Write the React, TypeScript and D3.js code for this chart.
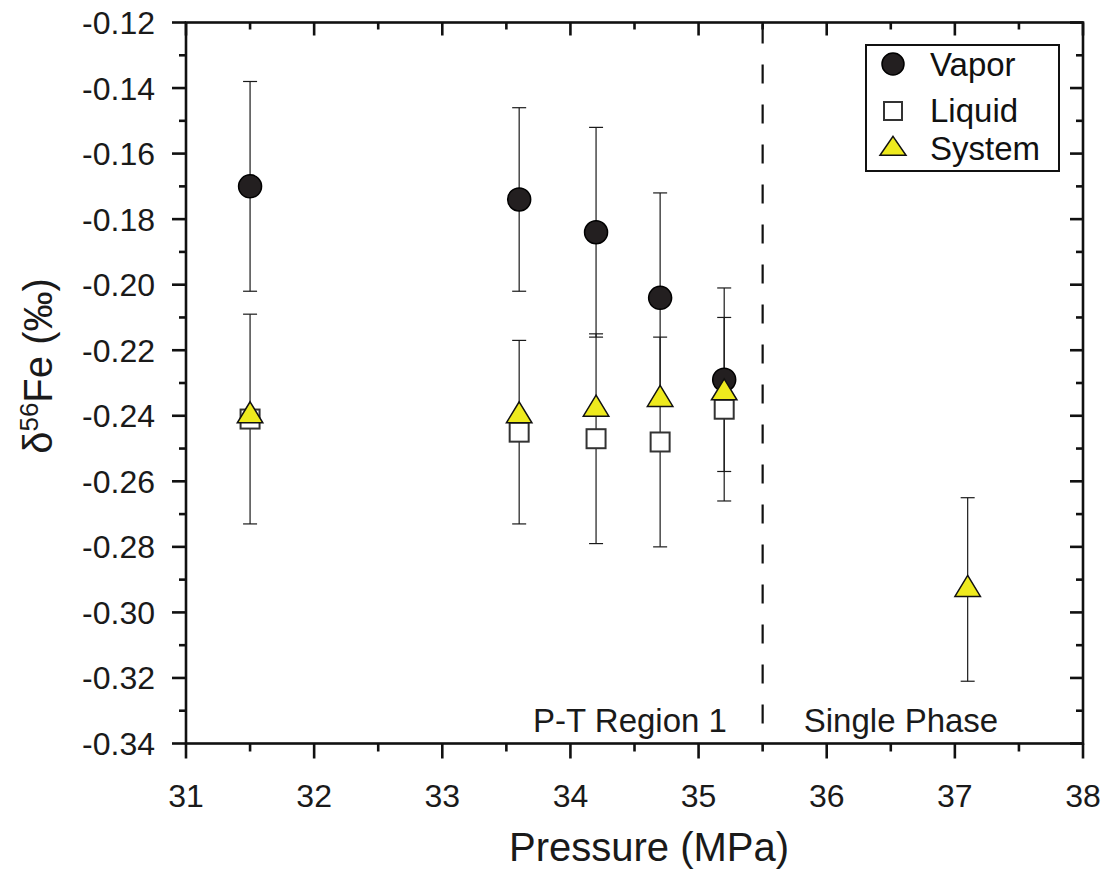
import React from "react";
import * as d3 from "d3";

const pressure = [31.5, 33.6, 34.2, 34.7, 35.2];
const vapor = [-0.17, -0.174, -0.184, -0.204, -0.229];
const vaporErr = [0.032, 0.028, 0.032, 0.032, 0.028];
const liquid = [-0.241, -0.245, -0.247, -0.248, -0.238];
const liquidErr = [0.032, 0.028, 0.032, 0.032, 0.028];
const systemP = [31.5, 33.6, 34.2, 34.7, 35.2, 37.1];
const systemV = [-0.24, -0.24, -0.238, -0.235, -0.233, -0.293];
const systemErr = [0, 0, 0, 0, 0, 0.028];
const xTicks = [31, 32, 33, 34, 35, 36, 37, 38];
const yTicks = [-0.12, -0.14, -0.16, -0.18, -0.2, -0.22, -0.24, -0.26, -0.28, -0.3, -0.32, -0.34];
const phaseBoundary = 35.5;
const legendItems = ["Vapor", "Liquid", "System"];

const W = 1114;
const H = 870;
const L = 186, R = 1083, T = 22.5, B = 743.5;
const FONT = "'Liberation Sans', Arial, Helvetica, sans-serif";
const YELLOW = "#eeea1e";
const DARK = "#231f20";

function tri(cx: number, cy: number, w: number, h: number) {
  const top = cy - (2 * h) / 3;
  const bot = cy + h / 3;
  return `M${cx},${top}L${cx + w / 2},${bot}L${cx - w / 2},${bot}Z`;
}

export default function App() {
  const x = d3.scaleLinear().domain([31, 38]).range([L, R]);
  const y = d3.scaleLinear().domain([-0.34, -0.12]).range([B, T]);
  const xMinor = d3.range(31.5, 38, 1);
  const yMinor = d3.range(-0.33, -0.12, 0.02);

  const errBar = (px: number, v: number, e: number, key: string, color = "#1a1a1a") => {
    const cx = x(px);
    const y1 = y(v + e);
    const y2 = y(v - e);
    return (
      <g key={key} stroke={color} strokeWidth={1.2}>
        <line x1={cx} x2={cx} y1={y1} y2={y2} />
        <line x1={cx - 7} x2={cx + 7} y1={y1} y2={y1} />
        <line x1={cx - 7} x2={cx + 7} y1={y2} y2={y2} />
      </g>
    );
  };

  return (
    <div style={{ position: "absolute", left: 0, top: 0 }}>
      <svg width={W} height={H} style={{ display: "block", background: "#fff" }} fontFamily={FONT}>
        {/* frame */}
        <rect x={L} y={T} width={R - L} height={B - T} fill="none" stroke="#111" strokeWidth={2.6} />
        {/* x ticks bottom (outward) and top (inward) */}
        {xTicks.map((t) => (
          <g key={"xt" + t} stroke="#111" strokeWidth={2.6}>
            <line x1={x(t)} x2={x(t)} y1={B} y2={B + 15} />
            <line x1={x(t)} x2={x(t)} y1={T} y2={T + 13} />
          </g>
        ))}
        {xMinor.map((t) => (
          <g key={"xm" + t} stroke="#111" strokeWidth={2.6}>
            <line x1={x(t)} x2={x(t)} y1={B} y2={B + 8} />
            <line x1={x(t)} x2={x(t)} y1={T} y2={T + 7} />
          </g>
        ))}
        {xTicks.map((t) => (
          <text key={"xl" + t} x={x(t)} y={807} textAnchor="middle" fontSize={32} fill="#1a1a1a">
            {t}
          </text>
        ))}
        {/* y ticks left (outward) and right (inward) */}
        {yTicks.map((t) => (
          <g key={"yt" + t} stroke="#111" strokeWidth={2.6}>
            <line x1={L - 14} x2={L} y1={y(t)} y2={y(t)} />
            <line x1={R - 13} x2={R} y1={y(t)} y2={y(t)} />
          </g>
        ))}
        {yMinor.map((t) => (
          <g key={"ym" + t} stroke="#111" strokeWidth={2.6}>
            <line x1={L - 7} x2={L} y1={y(t)} y2={y(t)} />
            <line x1={R - 7} x2={R} y1={y(t)} y2={y(t)} />
          </g>
        ))}
        {yTicks.map((t) => (
          <text key={"yl" + t} x={155} y={y(t) + 11.5} textAnchor="end" fontSize={32} fill="#1a1a1a">
            {d3.format(".2f")(t).replace("−", "-")}
          </text>
        ))}
        {/* axis titles */}
        <text x={649} y={861} textAnchor="middle" fontSize={40} fill="#1a1a1a">
          Pressure (MPa)
        </text>
        <text transform={`translate(52,366) rotate(-90)`} textAnchor="middle" fontSize={40} fill="#1a1a1a">
          δ<tspan dy={-14} fontSize={26}>56</tspan>
          <tspan dy={14}>Fe (‰)</tspan>
        </text>
        {/* phase boundary */}
        <line x1={x(phaseBoundary)} x2={x(phaseBoundary)} y1={T + 2} y2={B} stroke="#111" strokeWidth={2.2} strokeDasharray="19,21" />
        <text x={630} y={732} textAnchor="middle" fontSize={33} fill="#1a1a1a">P-T Region 1</text>
        <text x={901} y={732} textAnchor="middle" fontSize={33} fill="#1a1a1a">Single Phase</text>
        {/* error bars */}
        {pressure.map((p, i) => errBar(p, vapor[i], vaporErr[i], "ve" + i))}
        {pressure.map((p, i) => errBar(p, liquid[i], liquidErr[i], "le" + i))}
        {systemP.map((p, i) => (systemErr[i] > 0 ? errBar(p, systemV[i], systemErr[i], "se" + i) : null))}
        {/* markers */}
        {pressure.map((p, i) => (
          <circle key={"v" + i} cx={x(p)} cy={y(vapor[i])} r={11.5} fill={DARK} stroke="#000" strokeWidth={1.5} />
        ))}
        {pressure.map((p, i) => (
          <rect key={"l" + i} x={x(p) - 9.5} y={y(liquid[i]) - 9.5} width={19} height={19} fill="#fff" stroke="#333" strokeWidth={2} />
        ))}
        {systemP.map((p, i) => (
          <path key={"s" + i} d={tri(x(p), y(systemV[i]), 25.5, 21)} fill={YELLOW} stroke="#111" strokeWidth={1.5} />
        ))}
        {/* legend */}
        <rect x={866} y={45} width={193} height={126} fill="#fff" stroke="#111" strokeWidth={2} />
        <circle cx={893} cy={64} r={11} fill={DARK} stroke="#000" strokeWidth={1.5} />
        <rect x={884} y={102} width={18} height={18} fill="#fff" stroke="#333" strokeWidth={2} />
        <path d={tri(893, 149, 26, 19)} fill={YELLOW} stroke="#111" strokeWidth={1.5} />
        {legendItems.map((s, i) => (
          <text key={s} x={930} y={[76, 122, 160][i]} fontSize={33} fill="#111">
            {s}
          </text>
        ))}
      </svg>
    </div>
  );
}
